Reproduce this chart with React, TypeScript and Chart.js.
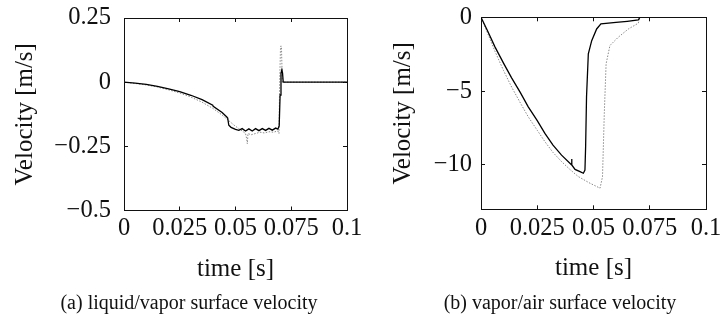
import React, { useEffect, useRef } from "react";
import { Chart, registerables } from "chart.js";

Chart.register(...registerables);

const FONT = '"Liberation Serif", "Times New Roman", Times, serif';

// ---------- Panel (a): liquid/vapor surface velocity ----------
const timeA_solid = [0, 0.005, 0.01, 0.015, 0.02, 0.025, 0.03, 0.035, 0.0398, 0.04, 0.044, 0.046, 0.0465, 0.047, 0.048, 0.05, 0.0515, 0.053, 0.0545, 0.056, 0.0575, 0.059, 0.0605, 0.062, 0.0635, 0.065, 0.0665, 0.068, 0.069, 0.0696, 0.0700, 0.0704, 0.0708, 0.0711, 0.0714, 0.1];
const velA_solid = [0, -0.004, -0.009, -0.016, -0.026, -0.037, -0.051, -0.068, -0.09, -0.094, -0.118, -0.135, -0.14, -0.168, -0.176, -0.184, -0.188, -0.181, -0.19, -0.182, -0.19, -0.181, -0.189, -0.181, -0.188, -0.18, -0.187, -0.179, -0.183, -0.17, -0.05, 0.035, 0.048, 0.035, 0.0, 0.0];
const timeA_dotted = [0, 0.005, 0.01, 0.015, 0.02, 0.025, 0.03, 0.035, 0.04, 0.044, 0.047, 0.049, 0.051, 0.053, 0.0545, 0.055, 0.0553, 0.0556, 0.057, 0.059, 0.061, 0.063, 0.065, 0.067, 0.069, 0.0695, 0.0698, 0.0702, 0.0706, 0.071, 0.1];
const velA_dotted = [0, -0.005, -0.011, -0.019, -0.03, -0.042, -0.058, -0.078, -0.103, -0.128, -0.15, -0.165, -0.178, -0.19, -0.2, -0.22, -0.24, -0.2, -0.205, -0.2, -0.195, -0.198, -0.193, -0.195, -0.19, -0.2, 0.0, 0.14, 0.14, 0.0, 0.0];

// ---------- Panel (b): vapor/air surface velocity ----------
const timeB_solid = [0, 0.003, 0.0062, 0.01, 0.0136, 0.0175, 0.021, 0.025, 0.0284, 0.032, 0.0358, 0.0402, 0.0403, 0.0404, 0.0418, 0.044, 0.0455, 0.0462, 0.0465, 0.0469, 0.0477, 0.0492, 0.0514, 0.0533, 0.06, 0.065, 0.0699, 0.0706];
const velB_solid = [0, -0.95, -2.0, -3.1, -4.1, -5.1, -6.06, -7.0, -7.86, -8.65, -9.33, -9.98, -9.6, -10.0, -10.3, -10.45, -10.56, -10.35, -8.76, -5.39, -2.47, -1.58, -0.79, -0.45, -0.35, -0.27, -0.18, 0];
const timeB_dotted = [0, 0.003, 0.0062, 0.01, 0.0136, 0.0175, 0.021, 0.025, 0.0284, 0.032, 0.0358, 0.0395, 0.0432, 0.048, 0.0529, 0.054, 0.0548, 0.0556, 0.0573, 0.061, 0.0655, 0.0699, 0.0706];
const velB_dotted = [0, -1.1, -2.3, -3.6, -4.72, -5.8, -6.74, -7.65, -8.42, -9.15, -9.77, -10.3, -10.78, -11.2, -11.57, -10.8, -6.5, -3.15, -1.91, -1.35, -0.79, -0.4, 0];

// ---------- Axes ----------
const xTickValues = [0, 0.025, 0.05, 0.075, 0.1];
const xTickLabels = ["0", "0.025", "0.05", "0.075", "0.1"];
const yTickValuesA = [-0.5, -0.25, 0, 0.25];
const yTickLabelsA = ["−0.5", "−0.25", "0", "0.25"];
const yTickValuesB = [-10, -5, 0];
const yTickLabelsB = ["−10", "−5", "0"];
const xTitle = "time [s]";
const yTitle = "Velocity [m/s]";
const captionA = "(a) liquid/vapor surface velocity";
const captionB = "(b) vapor/air surface velocity";

const INK = "#111";
const TICK_IN = -4; // negative tick length -> tick marks point into the plot box

type PanelProps = {
  width: number;
  height: number;
  tS: number[];
  vS: number[];
  tD: number[];
  vD: number[];
  yMin: number;
  yMax: number;
  yTicks: number[];
  yLabels: string[];
  yAxisWidth: number;
  yLabelPad: number;
  yTitlePad: number;
  xAxisHeight: number;
  xLabelPad: number;
  pad: { top: number; right: number; bottom: number; left: number };
};

function Panel(p: PanelProps) {
  const ref = useRef<HTMLCanvasElement | null>(null);
  useEffect(() => {
    if (!ref.current) return;
    const toPts = (t: number[], v: number[]) => t.map((tt, i) => ({ x: tt, y: v[i] }));
    const tickGrid = {
      display: true,
      drawOnChartArea: false,
      drawTicks: true,
      tickLength: TICK_IN,
      color: INK,
      lineWidth: 1,
    };
    const border = { display: true, color: INK, width: 1 };
    const setXTicks = (s: any) => {
      s.ticks = xTickValues.map((v) => ({ value: v }));
    };
    const setYTicks = (s: any) => {
      s.ticks = p.yTicks.map((v) => ({ value: v }));
    };
    const noPad = (s: any) => {
      s.paddingTop = 0;
      s.paddingBottom = 0;
      s.paddingLeft = 0;
      s.paddingRight = 0;
    };
    const chart = new Chart(ref.current, {
      type: "line",
      data: {
        datasets: [
          {
            data: toPts(p.tS, p.vS),
            borderColor: "#000",
            borderWidth: 1.3,
            pointRadius: 0,
            tension: 0,
            fill: false,
            xAxisID: "x",
            yAxisID: "y",
          },
          {
            data: toPts(p.tD, p.vD),
            borderColor: "#8a8a8a",
            borderWidth: 1,
            borderDash: [1.5, 1.5],
            pointRadius: 0,
            tension: 0,
            fill: false,
            xAxisID: "x",
            yAxisID: "y",
          },
        ],
      },
      options: {
        animation: false,
        responsive: false,
        devicePixelRatio: 1,
        layout: { padding: p.pad },
        plugins: { legend: { display: false }, tooltip: { enabled: false } },
        scales: {
          x: {
            type: "linear",
            position: "bottom",
            min: 0,
            max: 0.1,
            grid: tickGrid,
            border,
            afterBuildTicks: setXTicks,
            afterFit: (s: any) => {
              s.height = p.xAxisHeight;
              noPad(s);
            },
            ticks: {
              autoSkip: false,
              maxRotation: 0,
              minRotation: 0,
              padding: p.xLabelPad - TICK_IN,
              color: INK,
              font: { family: FONT, size: 24.5, lineHeight: 1 },
              callback: (value: any) => {
                const i = xTickValues.indexOf(Number(value));
                return i >= 0 ? xTickLabels[i] : "";
              },
            },
            title: {
              display: true,
              text: xTitle,
              color: INK,
              font: { family: FONT, size: 25, lineHeight: 1 },
              padding: { top: 0, bottom: 0 },
            },
          },
          y: {
            type: "linear",
            position: "left",
            min: p.yMin,
            max: p.yMax,
            grid: tickGrid,
            border,
            afterBuildTicks: setYTicks,
            afterFit: (s: any) => {
              s.width = p.yAxisWidth;
              noPad(s);
            },
            ticks: {
              autoSkip: false,
              padding: p.yLabelPad - TICK_IN,
              color: INK,
              font: { family: FONT, size: 24.5, lineHeight: 1 },
              callback: (value: any) => {
                const i = p.yTicks.indexOf(Number(value));
                return i >= 0 ? p.yLabels[i] : "";
              },
            },
            title: {
              display: true,
              text: yTitle,
              color: INK,
              font: { family: FONT, size: 25, lineHeight: 1 },
              padding: { top: p.yTitlePad, bottom: 0 },
            },
          },
          x2: {
            type: "linear",
            position: "top",
            axis: "x",
            min: 0,
            max: 0.1,
            grid: tickGrid,
            border,
            afterBuildTicks: setXTicks,
            afterFit: (s: any) => {
              s.height = 0;
              noPad(s);
            },
            ticks: { display: false },
          },
          y2: {
            type: "linear",
            position: "right",
            axis: "y",
            min: p.yMin,
            max: p.yMax,
            grid: tickGrid,
            border,
            afterBuildTicks: setYTicks,
            afterFit: (s: any) => {
              s.width = 0;
              noPad(s);
            },
            ticks: { display: false },
          },
        },
      },
    } as any);
    return () => chart.destroy();
  }, []);
  return <canvas ref={ref} width={p.width} height={p.height} style={{ display: "block", width: p.width, height: p.height }} />;
}

export default function App() {
  const captionStyle: React.CSSProperties = {
    position: "absolute",
    top: 292,
    width: 360,
    textAlign: "center",
    fontFamily: FONT,
    fontSize: 20,
    lineHeight: "20px",
    color: INK,
    whiteSpace: "nowrap",
  };
  return (
    <div style={{ position: "fixed", left: 0, top: 0, width: 720, height: 320, overflow: "hidden", background: "#fff" }}>
      <div style={{ position: "absolute", left: 0, top: 0 }}>
        <Panel
          width={380}
          height={320}
          tS={timeA_solid}
          vS={velA_solid}
          tD={timeA_dotted}
          vD={velA_dotted}
          yMin={-0.5}
          yMax={0.25}
          yTicks={yTickValuesA}
          yLabels={yTickLabelsA}
          yAxisWidth={124}
          yLabelPad={13}
          yTitlePad={12.5}
          xAxisHeight={71}
          xLabelPad={6}
          pad={{ top: 18, right: 33, bottom: 320 - 210.5 - 71, left: 0 }}
        />
      </div>
      <div style={{ position: "absolute", left: 370, top: 0 }}>
        <Panel
          width={370}
          height={320}
          tS={timeB_solid}
          vS={velB_solid}
          tD={timeB_dotted}
          vD={velB_dotted}
          yMin={-13}
          yMax={0}
          yTicks={yTickValuesB}
          yLabels={yTickLabelsB}
          yAxisWidth={111}
          yLabelPad={9}
          yTitlePad={20.5}
          xAxisHeight={72}
          xLabelPad={7.5}
          pad={{ top: 17.3, right: 34, bottom: 320 - 209.3 - 72, left: 0 }}
        />
      </div>
      <div style={{ ...captionStyle, left: 189 - 180 }}>{captionA}</div>
      <div style={{ ...captionStyle, left: 560 - 180 }}>{captionB}</div>
    </div>
  );
}
